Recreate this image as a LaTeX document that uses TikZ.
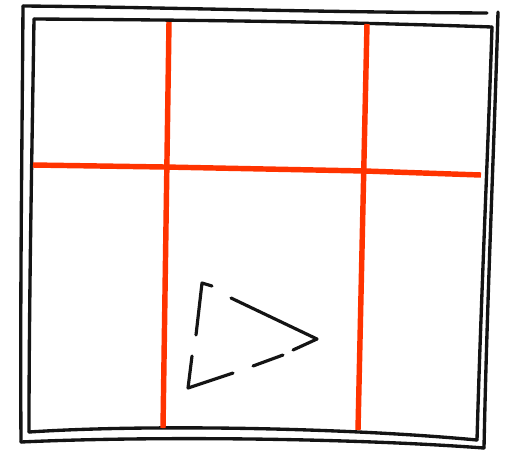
\documentclass[tikz,border=0pt]{standalone}
\usepackage{xcolor}
\usepackage{tikz}
\usetikzlibrary{calc}
\definecolor{gridred}{HTML}{FF3300}
\definecolor{penblack}{HTML}{141414}

\begin{document}
\begin{tikzpicture}[
    x=0.02cm, y=-0.02cm,
    frameline/.style={draw=penblack,line width=1.9pt,line cap=round,line join=round},
    gridline/.style={draw=gridred,line width=3.1pt},
    tripen/.style={draw=penblack,line width=1.8pt,line cap=round,line join=round}
  ]
    \useasboundingbox (0,0) rectangle (510,451);

    % outer and inner frame corners
    \coordinate (otl) at (23,6);
    \coordinate (otr) at (498,12);
    \coordinate (obr) at (484,448);
    \coordinate (obl) at (21,442);
    \coordinate (itl) at (34,19);
    \coordinate (itr) at (492,27);
    \coordinate (ibr) at (477,440);
    \coordinate (ibl) at (29,432);

    % double frame, hand drawn
    \draw[frameline] (otl) .. controls (150,7) and (300,12) .. (487,13);
    \draw[frameline] (itl) .. controls (200,20) and (350,22) .. (itr);
    \draw[frameline] (otr) .. controls (494,150) and (487,300) .. (obr);
    \draw[frameline] (itr) .. controls (488,150) and (481,300) .. (ibr);
    \draw[frameline] (obl) .. controls (150,436) and (350,438) .. (obr);
    \draw[frameline] (ibl) .. controls (150,424) and (350,428) .. (ibr);
    \draw[frameline] (otl) .. controls (22,150) and (20,300) .. (obl);
    \draw[frameline] (itl) .. controls (32,150) and (29,300) .. (ibl);

    % red grid
    \coordinate (v1t) at (169,22);
    \coordinate (v1b) at (163,428);
    \coordinate (v2t) at (367,24);
    \coordinate (v2b) at (358,430);
    \coordinate (hl) at (33,165);
    \coordinate (hr) at (481,175);
    \draw[gridline] (v1t) -- (v1b);
    \draw[gridline] (v2t) -- (v2b);
    \draw[gridline] (hl) -- (165,167) -- (365,171) -- (hr);

    % dashed triangle
    \coordinate (ta) at (202,283);
    \coordinate (tb) at (317,339);
    \coordinate (tc) at (188,388);
    \draw[tripen] (212,286) -- (ta) -- (196,335);
    \draw[tripen] (192,356) -- (tc) -- (233,373);
    \draw[tripen] (253,366) -- (283,355);
    \draw[tripen] (293,350) -- (tb) -- (231,298);
  \end{tikzpicture}
\end{document}
